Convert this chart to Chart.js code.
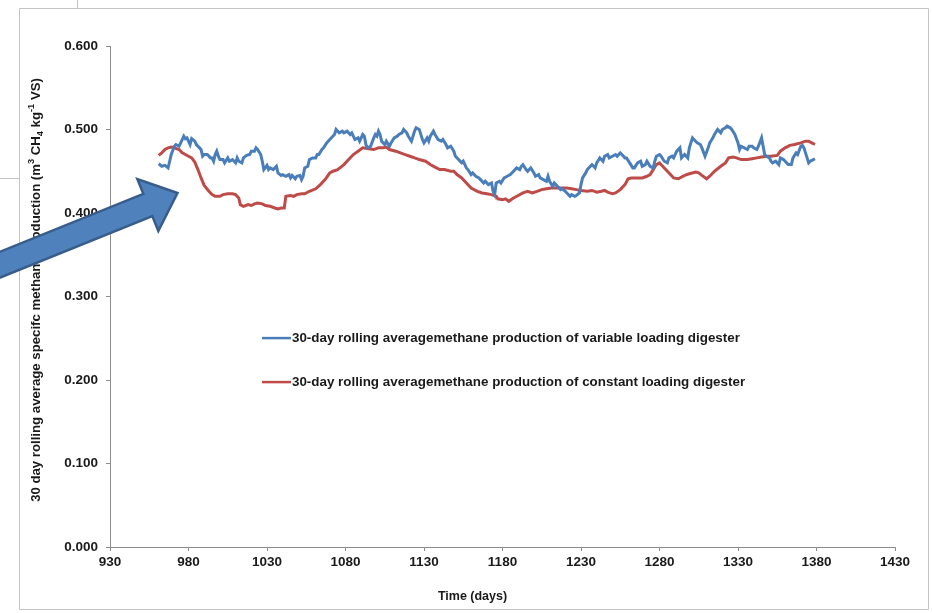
<!DOCTYPE html>
<html>
<head>
<meta charset="utf-8">
<script src="https://cdn.jsdelivr.net/npm/chart.js@4.4.1/dist/chart.umd.min.js"></script>
<style>
  html, body { margin: 0; padding: 0; background: #ffffff; }
  #wrap { position: absolute; left: 0; top: 0; width: 932px; height: 613px; }
</style>
</head>
<body>
<div id="wrap"><canvas id="chart" width="932" height="613"></canvas></div>
<script>
// Series labels
const seriesLabels = [
  '30-day rolling averagemethane production of variable loading digester',
  '30-day rolling averagemethane production of constant loading digester'
];

// Variable loading digester: day and 30-day rolling average (m3 CH4 / kg VS)
const variableDays = [
  961,963,965,967,968,969,971,972,974,976,977,978,979,981,982,984,985,987,988,989,
  990,992,994,995,996,997,998,999,1000,1002,1003,1005,1006,1008,1010,1011,1012,1014,1015,1017,
  1019,1020,1022,1023,1024,1026,1027,1028,1030,1031,1032,1034,1036,1037,1039,1040,1042,1044,1045,1046,
  1048,1049,1051,1052,1053,1054,1056,1057,1059,1061,1062,1063,1065,1066,1068,1070,
  1073,1074,1076,1078,1079,1081,1083,1084,1086,1088,1089,1091,1092,1093,1094,1096,1098,1099,1100,1101,
  1102,1103,1105,1106,1108,1109,1111,1113,1114,1116,1117,1119,1120,1122,1124,1125,1127,1129,1130,1132,
  1133,1134,1136,1137,1139,1141,1142,1144,1145,1147,1149,1150,1152,1154,1155,1157,1158,1160,1161,1163,
  1165,1166,1168,1169,1171,1173,1174,1175,1176,1178,1179,1181,
  1183,1185,1187,1189,1191,1192,1193,1195,1196,1198,1200,1201,1203,1204,1206,1208,1209,1210,1212,1213,
  1215,1217,1218,1220,1221,1223,1224,1226,1227,1229,1230,1231,1233,1234,1236,1237,1239,1240,1242,1244,
  1245,1247,1248,1250,1252,1253,1255,1256,1258,1259,1261,1263,1264,1266,1268,1269,1271,1272,1274,1276,
  1277,1278,1280,1281,1283,1285,1286,1288,1289,1291,1293,
  1294,1296,1298,1299,1301,1303,1304,1306,1307,1309,1311,1312,1314,1315,1317,1319,1320,1322,1323,1325,
  1326,1328,1330,1331,1332,1334,1336,1337,1339,1340,1342,1343,1345,1346,1347,1348,1350,1351,1352,1354,
  1356,1357,1359,1360,1362,1364,1365,1367,1368,1370,1371,1372,1374,1375,1376,1378,1379
];
const variableValues = [
  0.459,0.456,0.457,0.454,0.462,0.470,0.480,0.482,0.480,0.488,0.492,0.489,0.490,0.482,0.489,0.486,0.482,0.478,0.476,0.468,
  0.470,0.470,0.466,0.466,0.462,0.470,0.474,0.468,0.464,0.464,0.460,0.466,0.462,0.464,0.460,0.466,0.462,0.460,0.466,0.469,
  0.470,0.474,0.474,0.478,0.476,0.470,0.462,0.452,0.457,0.452,0.454,0.452,0.456,0.448,0.445,0.446,0.444,0.446,0.442,0.445,
  0.441,0.444,0.445,0.440,0.444,0.454,0.456,0.464,0.466,0.466,0.470,0.470,0.476,0.478,0.484,0.488,
  0.494,0.500,0.496,0.498,0.496,0.498,0.494,0.496,0.488,0.490,0.486,0.494,0.492,0.482,0.478,0.480,0.490,0.494,0.492,0.498,
  0.494,0.486,0.482,0.486,0.480,0.484,0.490,0.492,0.494,0.496,0.500,0.496,0.492,0.486,0.498,0.502,0.500,0.488,0.484,0.490,
  0.486,0.492,0.498,0.494,0.488,0.486,0.488,0.482,0.478,0.480,0.474,0.468,0.464,0.460,0.462,0.454,0.452,0.446,0.448,0.444,
  0.442,0.440,0.436,0.438,0.434,0.436,0.426,0.422,0.436,0.438,0.436,0.442,
  0.444,0.446,0.450,0.454,0.452,0.456,0.458,0.452,0.450,0.454,0.448,0.444,0.446,0.442,0.440,0.438,0.444,0.438,0.432,0.436,
  0.432,0.428,0.429,0.426,0.424,0.420,0.422,0.420,0.421,0.424,0.434,0.442,0.448,0.452,0.456,0.458,0.454,0.460,0.466,0.462,
  0.468,0.470,0.466,0.468,0.470,0.468,0.472,0.470,0.466,0.466,0.460,0.454,0.454,0.460,0.462,0.456,0.458,0.462,0.456,0.454,
  0.462,0.468,0.470,0.468,0.462,0.460,0.466,0.468,0.466,0.474,0.478,
  0.466,0.470,0.466,0.478,0.490,0.486,0.484,0.482,0.478,0.468,0.478,0.484,0.490,0.494,0.500,0.496,0.500,0.502,0.504,0.502,
  0.500,0.494,0.484,0.476,0.480,0.478,0.476,0.480,0.480,0.478,0.476,0.480,0.490,0.480,0.470,0.468,0.466,0.462,0.460,0.462,
  0.458,0.466,0.464,0.462,0.458,0.458,0.466,0.472,0.470,0.480,0.481,0.478,0.466,0.460,0.462,0.464,0.465
];

// Constant loading digester: day and 30-day rolling average (m3 CH4 / kg VS)
const constantDays = [
  961,963,965,967,969,971,974,976,978,980,982,984,986,988,990,993,995,997,1000,1002,
  1005,1008,1010,1012,1013,1015,1018,1020,1022,1024,1027,1029,1032,1035,1037,1039,1041,1042,1045,1047,
  1049,1052,1054,1057,1061,1064,1067,1070,
  1072,1075,1079,1082,1085,1088,1091,1095,1098,1101,1104,1106,1108,1112,1115,1118,1121,1124,1127,1131,
  1134,1137,1140,1143,1147,1149,1151,1154,1157,1160,1164,1167,1170,1173,1176,1177,1180,1182,
  1184,1187,1190,1193,1196,1199,1202,1205,1208,1211,1214,1218,1221,1224,1227,1230,1234,1237,1240,1243,
  1245,1247,1250,1252,1255,1258,1260,1262,1265,1269,1272,1274,1276,1278,1280,1282,1285,1287,1289,1292,
  1296,1299,1303,1305,1307,1310,1312,1315,1319,1322,1324,1327,1329,1332,1336,1339,1342,1345,1348,1351,
  1355,1357,1360,1363,1366,1370,1373,1375,1377,1379
];
const constantValues = [
  0.469,0.472,0.476,0.478,0.479,0.478,0.476,0.472,0.470,0.468,0.466,0.461,0.452,0.442,0.433,0.426,0.422,0.420,0.420,0.422,
  0.423,0.423,0.422,0.418,0.410,0.408,0.410,0.409,0.411,0.412,0.411,0.409,0.408,0.406,0.405,0.406,0.406,0.420,0.421,0.420,
  0.422,0.423,0.423,0.426,0.429,0.434,0.440,0.448,
  0.450,0.452,0.458,0.464,0.470,0.474,0.478,0.477,0.476,0.478,0.478,0.479,0.476,0.474,0.472,0.470,0.468,0.466,0.464,0.462,
  0.458,0.455,0.452,0.452,0.450,0.450,0.446,0.442,0.436,0.430,0.426,0.424,0.423,0.422,0.420,0.417,0.416,0.417,
  0.414,0.418,0.421,0.424,0.426,0.424,0.426,0.428,0.429,0.430,0.430,0.430,0.430,0.429,0.428,0.427,0.426,0.427,0.425,0.426,
  0.427,0.425,0.423,0.424,0.428,0.434,0.441,0.442,0.442,0.442,0.444,0.446,0.452,0.458,0.460,0.456,0.450,0.446,0.442,0.441,
  0.445,0.447,0.449,0.448,0.445,0.441,0.444,0.450,0.456,0.460,0.466,0.467,0.466,0.464,0.464,0.465,0.466,0.467,0.468,0.468,
  0.469,0.474,0.478,0.481,0.482,0.484,0.486,0.486,0.484,0.482
];

// Axis ticks and titles
const xTickValues = [930, 980, 1030, 1080, 1130, 1180, 1230, 1280, 1330, 1380, 1430];
const yTickValues = [0, 0.1, 0.2, 0.3, 0.4, 0.5, 0.6];
const yTickLabels = ['0.000', '0.100', '0.200', '0.300', '0.400', '0.500', '0.600'];
const xTitle = 'Time (days)';
const yTitleParts = [
  ['30 day rolling average specifc methane production (m', ''],
  ['3', 'sup'],
  [' CH', ''],
  ['4', 'sub'],
  [' kg', ''],
  ['-1', 'sup'],
  [' VS)', '']
];

// Point the callout arrow at (day, value)
const arrowTarget = [973, 0.424];

const FONT = "'Liberation Sans', Arial, Helvetica, sans-serif";
const AXIS_GREY = '#8c8c8c';
const TEXT_COL = '#1a1a1a';
const COLORS = ['#4a7ebb', '#be4b48'];

function toPoints(days, vals) {
  return days.map((d, i) => ({ x: d, y: vals[i] }));
}

function drawRichText(ctx, parts, size) {
  const widths = parts.map(([t, k]) => {
    ctx.font = 'bold ' + (k ? size * 0.7 : size) + 'px ' + FONT;
    return ctx.measureText(t).width;
  });
  const total = widths.reduce((a, b) => a + b, 0);
  let x = -total / 2;
  parts.forEach(([t, k], i) => {
    ctx.font = 'bold ' + (k ? size * 0.7 : size) + 'px ' + FONT;
    const dy = k === 'sup' ? -size * 0.35 : (k === 'sub' ? size * 0.3 : 0);
    ctx.fillText(t, x, dy);
    x += widths[i];
  });
}

const decorations = {
  id: 'decorations',
  beforeDraw(chart) {
    const ctx = chart.ctx;
    ctx.save();
    ctx.fillStyle = '#ffffff';
    ctx.fillRect(0, 0, chart.width, chart.height);
    ctx.restore();
  },
  afterDraw(chart) {
    const ctx = chart.ctx;
    const area = chart.chartArea;
    const xs = chart.scales.x, ys = chart.scales.y;

    // outer frame and neighbouring panel edges
    ctx.save();
    ctx.strokeStyle = '#c4c4c4';
    ctx.lineWidth = 1;
    ctx.beginPath();
    ctx.rect(19.5, 8.5, 909, 601);
    ctx.moveTo(77.5, 0); ctx.lineTo(77.5, 8.5);
    ctx.moveTo(0, 178.5); ctx.lineTo(19.5, 178.5);
    ctx.stroke();
    ctx.restore();

    // x axis title
    ctx.save();
    ctx.fillStyle = TEXT_COL;
    ctx.font = 'bold 12.5px ' + FONT;
    ctx.textAlign = 'center';
    ctx.textBaseline = 'middle';
    ctx.fillText(xTitle, (area.left + area.right) / 2 - 30, 597);
    ctx.restore();

    // y axis title (rotated, with super/subscripts)
    ctx.save();
    ctx.fillStyle = TEXT_COL;
    ctx.translate(36, 290);
    ctx.rotate(-Math.PI / 2);
    ctx.textAlign = 'left';
    ctx.textBaseline = 'middle';
    drawRichText(ctx, yTitleParts, 13.2);
    ctx.restore();

    // legend inside the plot
    ctx.save();
    const lx = area.left + (area.right - area.left) * 0.1936;
    const ly = area.top + (area.bottom - area.top) * 0.583;
    chart.data.datasets.forEach((ds, i) => {
      const y = ly + i * 44;
      ctx.strokeStyle = ds.borderColor;
      ctx.lineWidth = 2.5;
      ctx.beginPath();
      ctx.moveTo(lx, y);
      ctx.lineTo(lx + 29, y);
      ctx.stroke();
      ctx.fillStyle = TEXT_COL;
      ctx.font = 'bold 13.4px ' + FONT;
      ctx.textAlign = 'left';
      ctx.textBaseline = 'middle';
      ctx.fillText(ds.label, lx + 30, y);
    });
    ctx.restore();

    // callout arrow
    const tx = xs.getPixelForValue(arrowTarget[0]);
    const ty = ys.getPixelForValue(arrowTarget[1]);
    ctx.save();
    ctx.translate(tx, ty);
    ctx.rotate(-22 * Math.PI / 180);
    ctx.beginPath();
    ctx.moveTo(0, 0);
    ctx.lineTo(-32, -28);
    ctx.lineTo(-32, -12);
    ctx.lineTo(-420, -12);
    ctx.lineTo(-420, 12);
    ctx.lineTo(-32, 12);
    ctx.lineTo(-32, 28);
    ctx.closePath();
    ctx.fillStyle = '#4f81bd';
    ctx.fill();
    ctx.lineJoin = 'miter';
    ctx.lineWidth = 2.5;
    ctx.strokeStyle = '#385d8a';
    ctx.stroke();
    ctx.restore();
  }
};

const tickFont = { family: FONT, size: 13.5, weight: 'bold' };

new Chart(document.getElementById('chart'), {
  type: 'line',
  data: {
    datasets: [
      {
        label: seriesLabels[0],
        data: toPoints(variableDays, variableValues),
        borderColor: COLORS[0],
        borderWidth: 3,
        pointRadius: 0,
        tension: 0,
        fill: false
      },
      {
        label: seriesLabels[1],
        data: toPoints(constantDays, constantValues),
        borderColor: COLORS[1],
        borderWidth: 3,
        pointRadius: 0,
        tension: 0,
        fill: false
      }
    ]
  },
  options: {
    responsive: false,
    animation: false,
    devicePixelRatio: 1,
    layout: { padding: { top: 46, right: 37, left: 0, bottom: 0 } },
    plugins: {
      legend: { display: false },
      tooltip: { enabled: false },
      title: { display: false }
    },
    scales: {
      x: {
        type: 'linear',
        min: xTickValues[0],
        max: xTickValues[xTickValues.length - 1],
        afterBuildTicks: s => { s.ticks = xTickValues.map(v => ({ value: v })); },
        afterFit: s => { s.height = 66; },
        ticks: {
          font: tickFont,
          color: TEXT_COL,
          padding: 3,
          maxRotation: 0,
          autoSkip: false,
          callback: (v, i) => String(xTickValues[i])
        },
        grid: { drawOnChartArea: false, drawTicks: true, tickLength: 4, color: AXIS_GREY },
        border: { display: true, color: AXIS_GREY, width: 1 }
      },
      y: {
        type: 'linear',
        min: yTickValues[0],
        max: yTickValues[yTickValues.length - 1],
        afterBuildTicks: s => { s.ticks = yTickValues.map(v => ({ value: v })); },
        afterFit: s => { s.width = 110; },
        ticks: {
          font: tickFont,
          color: TEXT_COL,
          padding: 8,
          autoSkip: false,
          callback: (v, i) => yTickLabels[i]
        },
        grid: { drawOnChartArea: false, drawTicks: true, tickLength: 4, color: AXIS_GREY },
        border: { display: true, color: AXIS_GREY, width: 1 }
      }
    }
  },
  plugins: [decorations]
});
</script>
</body>
</html>
